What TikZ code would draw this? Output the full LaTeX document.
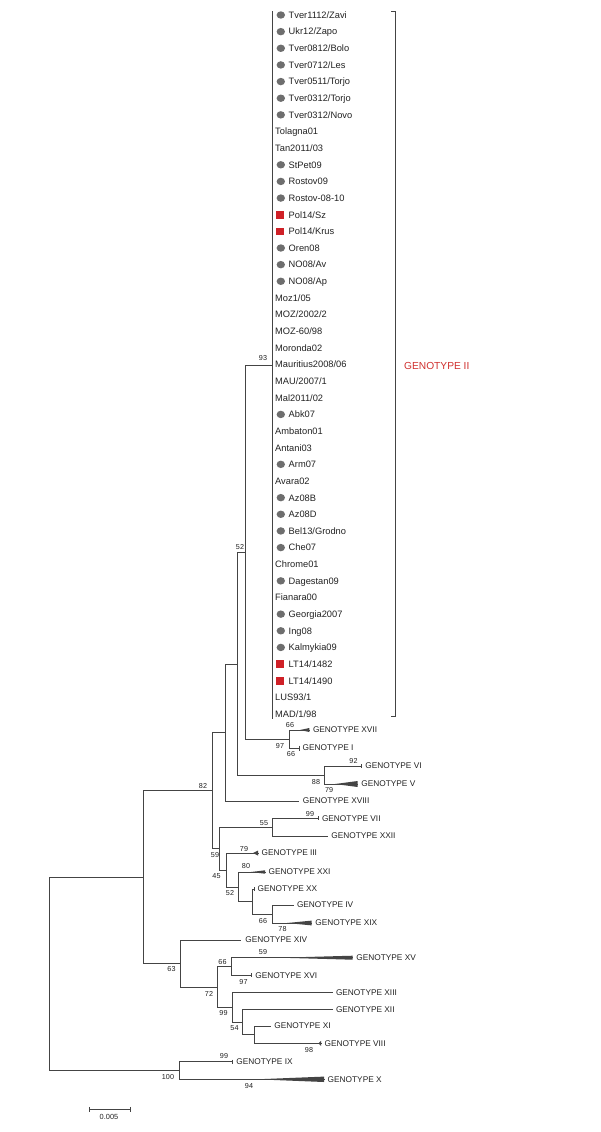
\documentclass[tikz,border=0pt]{standalone}
\usepackage{fontspec}
\setmainfont{Liberation Sans}
\usetikzlibrary{shapes.geometric}
\definecolor{treecol}{HTML}{444444}
\definecolor{txtcol}{HTML}{222222}
\definecolor{mkgrey}{HTML}{6E6E6E}
\definecolor{mkred}{HTML}{CF2027}
\definecolor{labred}{HTML}{D0302E}
\tikzset{
  tree/.style={draw=treecol, line width=1.0pt, line cap=rect, line join=miter},
  tick/.style={draw=treecol, line width=0.9pt},
  wedge/.style={fill=treecol},
  leaf/.style={anchor=base west, inner sep=0pt, text=txtcol, font=\fontsize{9.3}{10}\selectfont},
  glab/.style={anchor=west, inner sep=0pt, xshift=3.5pt, text=txtcol, font=\fontsize{8.3}{9}\selectfont},
  bs/.style={inner sep=0pt, text=txtcol, font=\fontsize{7.2}{8}\selectfont},
  dotmark/.style={ellipse, fill=mkgrey, inner sep=0pt, minimum width=8.4pt, minimum height=7.4pt},
  sqmark/.style={rectangle, fill=mkred, inner sep=0pt, minimum width=8.3pt, minimum height=7.6pt},
  redlab/.style={anchor=west, inner sep=0pt, text=labred, font=\fontsize{10.2}{11}\selectfont},
}
\newcommand\leafplain[2]{\node[leaf] (leaf#1) at (275,{15+(#1-1)*16.643+3.35}) {#2};}
\newcommand\leafdot[2]{\node[dotmark] (mk#1) at (280.8,{15+(#1-1)*16.643}) {};\node[leaf] (leaf#1) at (288.5,{15+(#1-1)*16.643+3.35}) {#2};}
\newcommand\leafsq[2]{\node[sqmark] (mk#1) at (280.2,{15+(#1-1)*16.643}) {};\node[leaf] (leaf#1) at (288.5,{15+(#1-1)*16.643+3.35}) {#2};}
\begin{document}
\begin{tikzpicture}[x=1pt,y=-1pt]
\useasboundingbox[fill=white] (0,0) rectangle (600,1132);

% ---------- internal nodes ----------
\coordinate (R) at (49,974);
\coordinate (A) at (143,877);
\coordinate (N82) at (212,790);
\coordinate (B) at (225,732);
\coordinate (N52) at (237,664);
\coordinate (C) at (245,552);
\coordinate (N93) at (272,365);
\coordinate (N93top) at (272,11.5);
\coordinate (N93bot) at (272,718);
\coordinate (D) at (289,739);
\coordinate (VV) at (324,775);
\coordinate (N59) at (219,848);
\coordinate (N55) at (272.3,827);
\coordinate (N45) at (226,870);
\coordinate (N52b) at (238.7,887);
\coordinate (E) at (252.7,901.5);
\coordinate (N66b) at (272.3,914);
\coordinate (N63) at (180,963.5);
\coordinate (N72) at (217.7,987);
\coordinate (N66) at (231,966.5);
\coordinate (N99) at (232.3,1007);
\coordinate (N54) at (242.7,1022);
\coordinate (F) at (254,1034.5);
\coordinate (N100) at (179.3,1070.5);

% ---------- leaf ends ----------
\coordinate (gXVII) at (309.3,730);
\coordinate (gI) at (299,748);
\coordinate (gVI) at (361.7,766);
\coordinate (gV) at (357.7,784);
\coordinate (gXVIII) at (298,801);
\coordinate (gVII) at (318.3,818.3);
\coordinate (gXXII) at (327.7,836);
\coordinate (gIII) at (258,853);
\coordinate (gXXI) at (265,872);
\coordinate (gXX) at (254,889);
\coordinate (gIV) at (293.3,905);
\coordinate (gXIX) at (311.7,923);
\coordinate (gXIV) at (240.7,940);
\coordinate (gXV) at (352.7,957.7);
\coordinate (gXVI) at (251.7,975.3);
\coordinate (gXIII) at (332.3,992.7);
\coordinate (gXII) at (332.3,1009.3);
\coordinate (gXI) at (270.7,1026);
\coordinate (gVIII) at (321,1043.3);
\coordinate (gIX) at (232.7,1061.7);
\coordinate (gX) at (324,1079.3);

% ---------- branches ----------
\draw[tree] (R) |- (A);
\draw[tree] (R) |- (N100);
\draw[tree] (A) |- (N82);
\draw[tree] (A) |- (N63);
\draw[tree] (N82) |- (B);
\draw[tree] (N82) |- (N59);
\draw[tree] (B) |- (N52);
\draw[tree] (B) |- (gXVIII);
\draw[tree] (N52) |- (C);
\draw[tree] (N52) |- (VV);
\draw[tree] (C) |- (N93);
\draw[tree] (C) |- (D);
\draw[tree] (N93top) -- (N93bot);
\draw[tree] (D) |- (gXVII);
\draw[tree] (D) |- (gI);
\draw[tree] (VV) |- (gVI);
\draw[tree] (VV) |- (gV);
\draw[tree] (N59) |- (N55);
\draw[tree] (N59) |- (N45);
\draw[tree] (N55) |- (gVII);
\draw[tree] (N55) |- (gXXII);
\draw[tree] (N45) |- (gIII);
\draw[tree] (N45) |- (N52b);
\draw[tree] (N52b) |- (gXXI);
\draw[tree] (N52b) |- (E);
\draw[tree] (E) |- (gXX);
\draw[tree] (E) |- (N66b);
\draw[tree] (N66b) |- (gIV);
\draw[tree] (N66b) |- (gXIX);
\draw[tree] (N63) |- (gXIV);
\draw[tree] (N63) |- (N72);
\draw[tree] (N72) |- (N66);
\draw[tree] (N72) |- (N99);
\draw[tree] (N66) |- (gXV);
\draw[tree] (N66) |- (gXVI);
\draw[tree] (N99) |- (gXIII);
\draw[tree] (N99) |- (N54);
\draw[tree] (N54) |- (gXII);
\draw[tree] (N54) |- (F);
\draw[tree] (F) |- (gXI);
\draw[tree] (F) |- (gVIII);
\draw[tree] (N100) |- (gIX);
\draw[tree] (N100) |- (gX);

% ---------- collapsed clades: wedges and ticks ----------
\fill[wedge] (300,730) -- (309.3,728) -- (309.3,732) -- cycle;
\fill[wedge] (335,784) -- (357.7,781) -- (357.7,787) -- cycle;
\fill[wedge] (253,853) -- (258,850.5) -- (258,855.5) -- cycle;
\fill[wedge] (251,872) -- (265,870.3) -- (265,873.7) -- cycle;
\fill[wedge] (287,923) -- (311.7,920.6) -- (311.7,925.4) -- cycle;
\fill[wedge] (280,957.7) -- (352.7,955.7) -- (352.7,959.7) -- cycle;
\fill[wedge] (318.5,1043.3) -- (321,1040.8) -- (321,1045.8) -- cycle;
\fill[wedge] (256.7,1079.3) -- (324,1076.6) -- (324,1082) -- cycle;
\draw[tick] (gI) ++(0,-2.5) -- ++(0,5);
\draw[tick] (gVI) ++(0,-2) -- ++(0,4);
\draw[tick] (gVII) ++(0,-2) -- ++(0,4);
\draw[tick] (gXX) ++(0,-2) -- ++(0,4);
\draw[tick] (gXVI) ++(0,-2) -- ++(0,4);
\draw[tick] (gIX) ++(0,-2) -- ++(0,4);

% ---------- genotype labels ----------
\node[glab] (lXVII) at (gXVII) {GENOTYPE XVII};
\node[glab] (lI) at (gI) {GENOTYPE I};
\node[glab] (lVI) at (gVI) {GENOTYPE VI};
\node[glab] (lV) at (gV) {GENOTYPE V};
\node[glab, xshift=1.2pt] (lXVIII) at (gXVIII) {GENOTYPE XVIII};
\node[glab] (lVII) at (gVII) {GENOTYPE VII};
\node[glab] (lXXII) at (gXXII) {GENOTYPE XXII};
\node[glab] (lIII) at (gIII) {GENOTYPE III};
\node[glab] (lXXI) at (gXXI) {GENOTYPE XXI};
\node[glab] (lXX) at (gXX) {GENOTYPE XX};
\node[glab] (lIV) at (gIV) {GENOTYPE IV};
\node[glab] (lXIX) at (gXIX) {GENOTYPE XIX};
\node[glab, xshift=1pt] (lXIV) at (gXIV) {GENOTYPE XIV};
\node[glab] (lXV) at (gXV) {GENOTYPE XV};
\node[glab] (lXVI) at (gXVI) {GENOTYPE XVI};
\node[glab] (lXIII) at (gXIII) {GENOTYPE XIII};
\node[glab] (lXII) at (gXII) {GENOTYPE XII};
\node[glab] (lXI) at (gXI) {GENOTYPE XI};
\node[glab] (lVIII) at (gVIII) {GENOTYPE VIII};
\node[glab] (lIX) at (gIX) {GENOTYPE IX};
\node[glab] (lX) at (gX) {GENOTYPE X};

% ---------- bootstrap values ----------
\node[bs] (b93) at (263,358) {93};
\node[bs] (b52) at (240,547) {52};
\node[bs] (b66a) at (290,725) {66};
\node[bs] (b97a) at (280,745.7) {97};
\node[bs] (b66b) at (291,754) {66};
\node[bs] (b92) at (353.5,761) {92};
\node[bs] (b88) at (316,781.7) {88};
\node[bs] (b79a) at (329,790) {79};
\node[bs] (b82) at (203,786) {82};
\node[bs] (b55) at (264,822.7) {55};
\node[bs] (b99a) at (310,814) {99};
\node[bs] (b59a) at (215,855) {59};
\node[bs] (b79b) at (244,849) {79};
\node[bs] (b45) at (216.5,876.5) {45};
\node[bs] (b80) at (246,865.7) {80};
\node[bs] (b52b) at (230,892.7) {52};
\node[bs] (b66c) at (263,920.7) {66};
\node[bs] (b78) at (282.5,929.3) {78};
\node[bs] (b63) at (171.5,969) {63};
\node[bs] (b59b) at (263,952) {59};
\node[bs] (b66d) at (222.5,962) {66};
\node[bs] (b97b) at (243.5,981.7) {97};
\node[bs] (b72) at (209,994) {72};
\node[bs] (b99b) at (223.5,1013) {99};
\node[bs] (b54) at (234.5,1028) {54};
\node[bs] (b98) at (309,1050) {98};
\node[bs] (b99c) at (224,1056) {99};
\node[bs] (b100) at (168,1076.7) {100};
\node[bs] (b94) at (249,1085.7) {94};

% ---------- genotype II leaves ----------
\leafdot{1}{Tver1112/Zavi}
\leafdot{2}{Ukr12/Zapo}
\leafdot{3}{Tver0812/Bolo}
\leafdot{4}{Tver0712/Les}
\leafdot{5}{Tver0511/Torjo}
\leafdot{6}{Tver0312/Torjo}
\leafdot{7}{Tver0312/Novo}
\leafplain{8}{Tolagna01}
\leafplain{9}{Tan2011/03}
\leafdot{10}{StPet09}
\leafdot{11}{Rostov09}
\leafdot{12}{Rostov-08-10}
\leafsq{13}{Pol14/Sz}
\leafsq{14}{Pol14/Krus}
\leafdot{15}{Oren08}
\leafdot{16}{NO08/Av}
\leafdot{17}{NO08/Ap}
\leafplain{18}{Moz1/05}
\leafplain{19}{MOZ/2002/2}
\leafplain{20}{MOZ-60/98}
\leafplain{21}{Moronda02}
\leafplain{22}{Mauritius2008/06}
\leafplain{23}{MAU/2007/1}
\leafplain{24}{Mal2011/02}
\leafdot{25}{Abk07}
\leafplain{26}{Ambaton01}
\leafplain{27}{Antani03}
\leafdot{28}{Arm07}
\leafplain{29}{Avara02}
\leafdot{30}{Az08B}
\leafdot{31}{Az08D}
\leafdot{32}{Bel13/Grodno}
\leafdot{33}{Che07}
\leafplain{34}{Chrome01}
\leafdot{35}{Dagestan09}
\leafplain{36}{Fianara00}
\leafdot{37}{Georgia2007}
\leafdot{38}{Ing08}
\leafdot{39}{Kalmykia09}
\leafsq{40}{LT14/1482}
\leafsq{41}{LT14/1490}
\leafplain{42}{LUS93/1}
\leafplain{43}{MAD/1/98}

% ---------- bracket and clade label ----------
\coordinate (brTL) at (391,11.7);
\coordinate (brT) at (395,11.7);
\coordinate (brB) at (395,716.7);
\coordinate (brBL) at (391,716.7);
\draw[tree, line cap=butt] (brTL) -- (brT) -- (brB) -- (brBL);
\node[redlab] (g2) at (404,365.7) {GENOTYPE II};

% ---------- scale bar ----------
\coordinate (sbL) at (89.3,1109.3);
\coordinate (sbR) at (130,1109.3);
\draw[tick] (sbL) -- (sbR);
\draw[tick] (sbL) ++(0,-2.4) -- ++(0,4.8);
\draw[tick] (sbR) ++(0,-2.4) -- ++(0,4.8);
\node[bs, font=\fontsize{7.4}{8}\selectfont] (sblab) at (109,1116.9) {0.005};
\end{tikzpicture}
\end{document}
